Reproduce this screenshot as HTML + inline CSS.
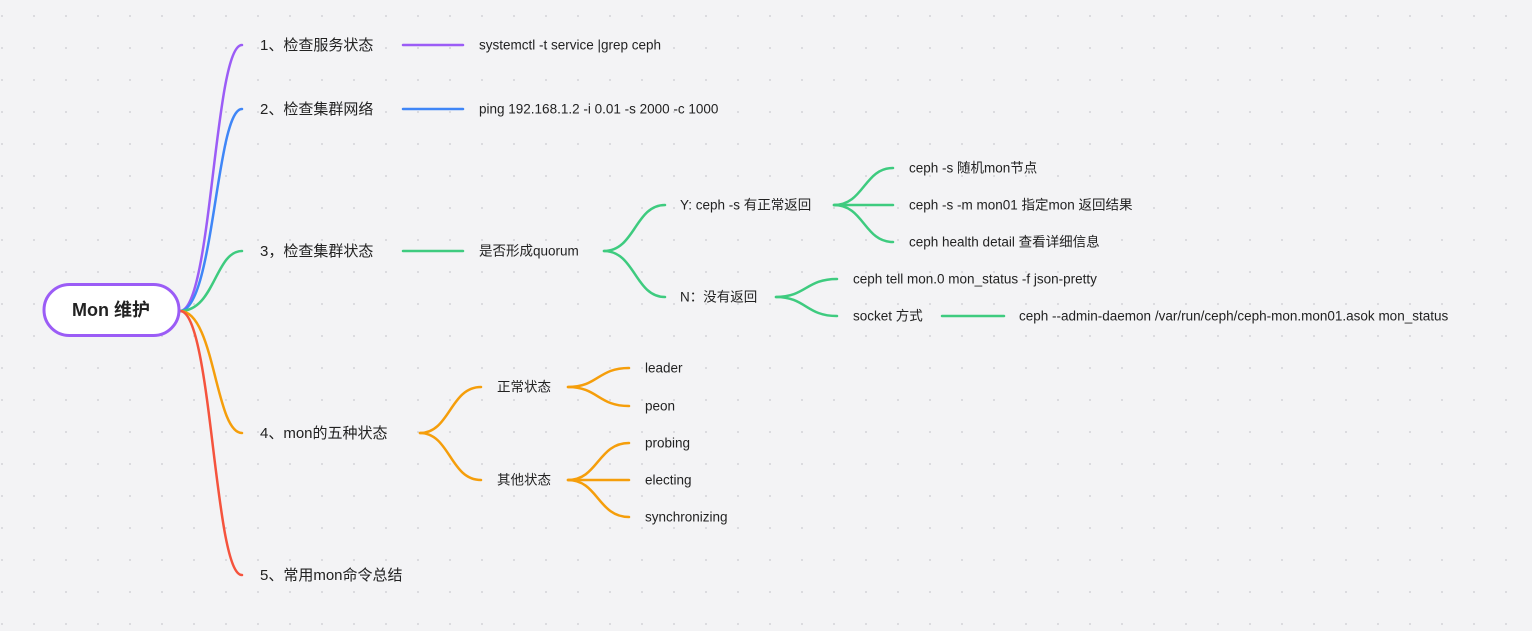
<!DOCTYPE html>
<html><head><meta charset="utf-8"><style>
html,body{margin:0;padding:0;background:#f3f3f5;}
svg text{font-family:"Liberation Sans","Noto Sans CJK SC",sans-serif;fill:#222;dominant-baseline:middle;}
</style></head><body>
<svg width="1532" height="626" viewBox="0 0 1532 626" xmlns="http://www.w3.org/2000/svg">
<defs><pattern id="d" x="33" y="47" width="32" height="32" patternUnits="userSpaceOnUse"><circle cx="1" cy="1" r="0.9" fill="#c9c9cf"/></pattern></defs>
<rect width="1532" height="626" fill="#f3f3f5"/>
<rect width="1532" height="626" fill="url(#d)"/>
<g fill="none" stroke-width="2.5" stroke-linecap="round">
<path d="M180 311 C212 311 214 45 242 45" stroke="#9b5cf6"/>
<path d="M180 311 C214 311 216 109 242 109" stroke="#3f86f7"/>
<path d="M180 311 C215 311 215 251 242 251" stroke="#3ecb7f"/>
<path d="M180 311 C215 311 215 433 242 433" stroke="#f59e0b"/>
<path d="M180 311 C212 311 214 575 242 575" stroke="#f5533d"/>
<path d="M403 45 H463" stroke="#9b5cf6"/>
<path d="M403 109 H463" stroke="#3f86f7"/>
<g stroke="#3ecb7f">
<path d="M403 251 H463"/>
<path d="M604 251 C635 251 635 205 665 205"/>
<path d="M604 251 C635 251 635 297 665 297"/>
<path d="M834 205 C864 205 864 168 893 168"/>
<path d="M834 205 H893"/>
<path d="M834 205 C864 205 864 242 893 242"/>
<path d="M776 297 C806 297 806 279 837 279"/>
<path d="M776 297 C806 297 806 316 837 316"/>
<path d="M942 316 H1004"/>
</g>
<g stroke="#f59e0b">
<path d="M420 433 C450 433 450 387 481 387"/>
<path d="M420 433 C450 433 450 480 481 480"/>
<path d="M568 387 C598 387 598 368 629 368"/>
<path d="M568 387 C598 387 598 406 629 406"/>
<path d="M568 480 C598 480 598 443 629 443"/>
<path d="M568 480 H629"/>
<path d="M568 480 C598 480 598 517 629 517"/>
</g>
</g>
<rect x="44" y="284.5" width="135" height="51" rx="25.5" fill="#fff" stroke="#9b5cf6" stroke-width="3"/>
<text x="111" y="311" text-anchor="middle" font-size="18" font-weight="bold">Mon 维护</text>
<g font-size="15">
<text x="260" y="46">1、检查服务状态</text>
<text x="260" y="110">2、检查集群网络</text>
<text x="260" y="252">3，检查集群状态</text>
<text x="260" y="434">4、mon的五种状态</text>
<text x="260" y="576">5、常用mon命令总结</text>
</g>
<g font-size="13.5">
<text x="479" y="46">systemctl -t service |grep ceph</text>
<text x="479" y="110">ping 192.168.1.2  -i 0.01 -s 2000 -c 1000</text>
<text x="479" y="252">是否形成quorum</text>
<text x="680" y="206">Y:  ceph -s 有正常返回</text>
<text x="680" y="298">N：没有返回</text>
<text x="909" y="169">ceph -s  随机mon节点</text>
<text x="909" y="206">ceph -s -m mon01  指定mon 返回结果</text>
<text x="909" y="243">ceph health detail  查看详细信息</text>
<text x="853" y="280">ceph tell mon.0 mon_status -f json-pretty</text>
<text x="853" y="317">socket 方式</text>
<text x="1019" y="317">ceph --admin-daemon /var/run/ceph/ceph-mon.mon01.asok  mon_status</text>
<text x="497" y="388">正常状态</text>
<text x="497" y="481">其他状态</text>
<text x="645" y="369">leader</text>
<text x="645" y="407">peon</text>
<text x="645" y="444">probing</text>
<text x="645" y="481">electing</text>
<text x="645" y="518">synchronizing</text>
</g>
</svg>
</body></html>
